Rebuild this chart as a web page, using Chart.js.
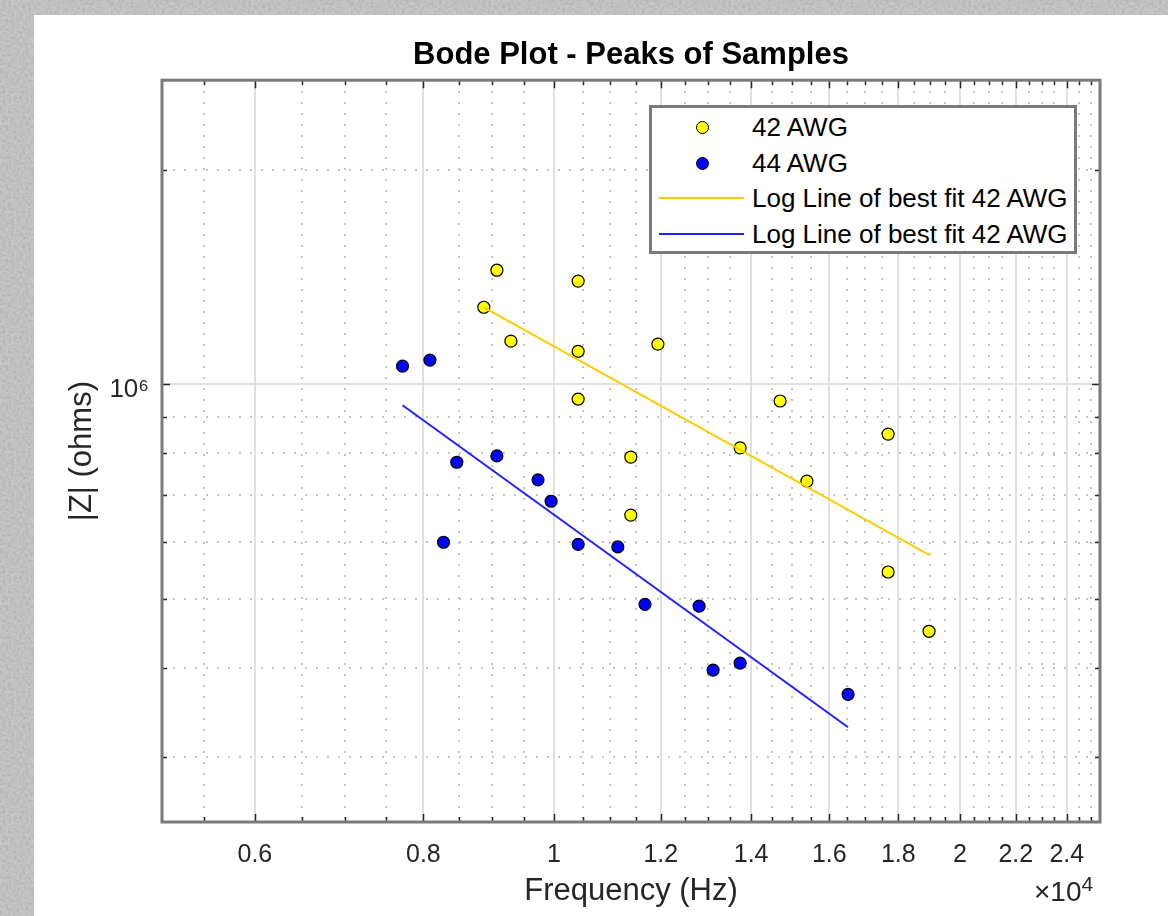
<!DOCTYPE html>
<html>
<head>
<meta charset="utf-8">
<title>Bode Plot - Peaks of Samples</title>
<script src="https://cdn.jsdelivr.net/npm/chart.js@4.4.1/dist/chart.umd.min.js"></script>
<style>
  html, body { margin: 0; padding: 0; }
  body {
    width: 1168px; height: 916px; position: relative; overflow: hidden;
    background-color: #c6c6c6;
    background-image: url("data:image/svg+xml;utf8,<svg xmlns='http://www.w3.org/2000/svg' width='240' height='240'><filter id='n' x='0' y='0'><feTurbulence type='fractalNoise' baseFrequency='0.35' numOctaves='3' stitchTiles='stitch'/><feColorMatrix type='matrix' values='0 0 0 0 0.45  0 0 0 0 0.45  0 0 0 0 0.45  0 0 0 2.2 -0.8'/></filter><rect width='240' height='240' filter='url(%23n)'/></svg>");
  }
  #paper { position: absolute; left: 34px; top: 15px; right: 0; bottom: 0; background: #fff; }
  #chart { position: absolute; left: 0; top: 0; }
  #legend {
    position: absolute; left: 649px; top: 105px; width: 422px; height: 143px;
    border: 3px solid #7a7a7a; background: #fff;
    font-family: "Liberation Sans", Arial, sans-serif; font-size: 26px; color: #000;
  }
  #legend .row { position: absolute; left: 0; width: 100%; height: 30px; }
  #legend .dot { position: absolute; left: 44px; top: 9px; width: 11px; height: 11px; border: 1px solid #000; border-radius: 50%; }
  #legend .line { position: absolute; left: 7px; top: 14px; width: 85px; height: 2px; }
  #legend .txt { position: absolute; left: 100px; top: 0; line-height: 30px; white-space: nowrap; }
  #expo {
    position: absolute; left: 1034px; top: 872px;
    font-family: "Liberation Sans", Arial, sans-serif; font-size: 28px; color: #262626;
  }
  #expo sup { font-size: 21px; }
</style>
</head>
<body>
<div id="paper"></div>
<canvas id="chart" width="1168" height="916"></canvas>
<div id="legend"></div>
<div id="expo">×10<sup>4</sup></div>
<script>
// peaks: frequency (Hz) and |Z| (ohms)
const freq42 = [9070, 10420, 8870, 9290, 10420, 11940, 10420, 14710, 17690, 13740, 11400, 15400, 11400, 17690, 18970];
const z42 = [1445000, 1395000, 1282000, 1149000, 1112000, 1138000, 953000, 947000, 851000, 814000, 790000, 731000, 655000, 545000, 450000];

const freq44 = [7720, 8090, 8470, 9070, 9730, 9950, 8280, 10420, 11150, 11680, 12810, 13120, 13740, 16520];
const z44 = [1060000, 1081000, 777000, 793000, 734000, 685000, 600000, 596000, 591000, 491000, 488000, 397000, 406000, 367000];

// end points of the fitted lines
const fitFreq42 = [8870, 18970];
const fitZ42 = [1282000, 576000];
const fitFreq44 = [7720, 16520];
const fitZ44 = [934000, 330000];

const xMajor = [6000, 8000, 10000, 12000, 14000, 16000, 18000, 20000, 22000, 24000];
const xMinor = [5500, 6500, 7000, 7500, 8500, 9000, 9500, 10500, 11000, 11500, 12500, 13000, 13500,
  14500, 15000, 15500, 16500, 17000, 17500, 18500, 19000, 19500, 20500, 21000, 21500, 22500, 23000, 23500, 24500, 25000];
const yMajor = [1000000];
const yMinor = [300000, 400000, 500000, 600000, 700000, 800000, 900000, 2000000];

const FONT = '"Liberation Sans", Arial, sans-serif';

function pts(xs, ys) {
  return xs.map((x, i) => ({ x: x, y: ys[i] }));
}

function setTicks(list) {
  return function (scale) {
    scale.ticks = list.map(v => ({ value: v }));
  };
}

const boxTicks = {
  id: 'boxTicks',
  afterDraw(chart) {
    const { ctx, chartArea: a, scales } = chart;
    ctx.save();
    ctx.strokeStyle = '#262626';
    ctx.lineWidth = 1.5;
    const mark = (scale, len) => {
      for (const t of scale.ticks) {
        const p = Math.round(scale.getPixelForValue(t.value)) + 0.5;
        ctx.beginPath();
        if (scale.isHorizontal()) {
          ctx.moveTo(p, a.bottom); ctx.lineTo(p, a.bottom - len);
          ctx.moveTo(p, a.top); ctx.lineTo(p, a.top + len);
        } else {
          ctx.moveTo(a.left, p); ctx.lineTo(a.left + len, p);
          ctx.moveTo(a.right, p); ctx.lineTo(a.right - len, p);
        }
        ctx.stroke();
      }
    };
    mark(scales.x, 8);
    mark(scales.x2, 5);
    mark(scales.y, 8);
    mark(scales.y2, 5);
    ctx.strokeStyle = '#7a7a7a';
    ctx.lineWidth = 3;
    ctx.strokeRect(a.left, a.top, a.right - a.left, a.bottom - a.top);
    ctx.restore();
  }
};

const xMin = 5120, xMax = 25400;
const yMin = 243000, yMax = 2670000;

const chart = new Chart(document.getElementById('chart'), {
  type: 'scatter',
  data: {
    datasets: [
      { label: '42 AWG', data: pts(freq42, z42), backgroundColor: '#ffff00', borderColor: '#000000',
        borderWidth: 1.2, pointRadius: 6, order: 2 },
      { label: '44 AWG', data: pts(freq44, z44), backgroundColor: '#0000ff', borderColor: '#000000',
        borderWidth: 1.2, pointRadius: 6, order: 2 },
      { label: 'Log Line of best fit 42 AWG', data: pts(fitFreq42, fitZ42), showLine: true, pointRadius: 0,
        borderColor: '#ffcc00', borderWidth: 2, order: 1 },
      { label: 'Log Line of best fit 42 AWG', data: pts(fitFreq44, fitZ44), showLine: true, pointRadius: 0,
        borderColor: '#2020ff', borderWidth: 2, order: 1 }
    ]
  },
  options: {
    responsive: false,
    animation: false,
    events: [],
    layout: { padding: { left: 34, right: 68, top: 0, bottom: 0 } },
    plugins: {
      legend: { display: false },
      tooltip: { enabled: false },
      title: {
        display: true,
        fullSize: false,
        text: 'Bode Plot - Peaks of Samples',
        color: '#000',
        font: { family: FONT, size: 31, weight: 'bold' },
        padding: { top: 37, bottom: 6 }
      }
    },
    scales: {
      x: {
        type: 'logarithmic', position: 'bottom', min: xMin, max: xMax,
        afterBuildTicks: setTicks(xMajor),
        afterFit: s => { s.height = 94; },
        ticks: {
          autoSkip: false, maxRotation: 0, padding: 18, color: '#262626',
          font: { family: FONT, size: 25 },
          callback: v => String(+(v / 1e4).toFixed(1))
        },
        grid: { color: '#e0e0e0', lineWidth: 2, drawTicks: false },
        border: { display: false },
        title: {
          display: true, text: 'Frequency (Hz)', color: '#262626',
          font: { family: FONT, size: 31 }, padding: { top: 0, bottom: 6 }
        }
      },
      x2: {
        type: 'logarithmic', position: 'top', min: xMin, max: xMax,
        afterBuildTicks: setTicks(xMinor),
        ticks: { display: false },
        grid: { color: '#c4c4c4', lineWidth: 2, drawTicks: false },
        border: { display: false, dash: [2, 9] }
      },
      y: {
        type: 'logarithmic', position: 'left', min: yMin, max: yMax,
        afterBuildTicks: setTicks(yMajor),
        afterFit: s => { s.width = 128; },
        ticks: {
          autoSkip: false, padding: 13, labelOffset: 6, color: '#262626',
          font: { family: FONT, size: 26 },
          callback: () => '10⁶'
        },
        grid: { color: '#e0e0e0', lineWidth: 2, drawTicks: false },
        border: { display: false },
        title: {
          display: true, text: '|Z| (ohms)', color: '#262626',
          font: { family: FONT, size: 31 }, padding: { top: 30, bottom: 0 }
        }
      },
      y2: {
        type: 'logarithmic', position: 'right', min: yMin, max: yMax,
        afterBuildTicks: setTicks(yMinor),
        ticks: { display: false },
        grid: { color: '#c4c4c4', lineWidth: 2, drawTicks: false },
        border: { display: false, dash: [2, 9] }
      }
    }
  },
  plugins: [boxTicks]
});

// legend drawn as html, taken from the datasets
const legend = document.getElementById('legend');
chart.data.datasets.forEach((ds, i) => {
  const row = document.createElement('div');
  row.className = 'row';
  row.style.top = (4 + i * 35.5) + 'px';
  const sym = document.createElement('div');
  if (ds.showLine) {
    sym.className = 'line';
    sym.style.background = ds.borderColor;
  } else {
    sym.className = 'dot';
    sym.style.background = ds.backgroundColor;
  }
  const txt = document.createElement('div');
  txt.className = 'txt';
  txt.textContent = ds.label;
  row.appendChild(sym);
  row.appendChild(txt);
  legend.appendChild(row);
});
</script>
</body>
</html>
